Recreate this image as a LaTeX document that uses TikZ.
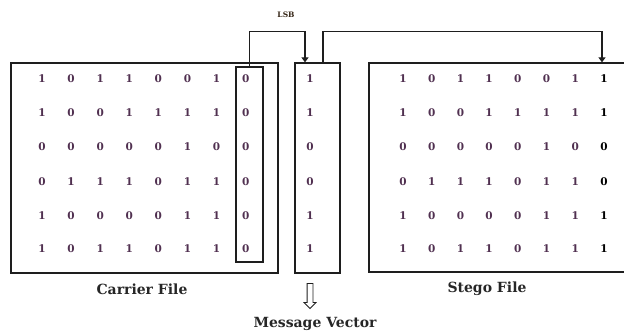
\documentclass[tikz,border=0pt]{standalone}
\usepackage{fontspec}
\setmainfont{DejaVu Serif}
\usetikzlibrary{arrows.meta,shapes.arrows}
\definecolor{digit}{RGB}{80,48,80}
\definecolor{edge}{RGB}{30,30,30}
\tikzset{
  box/.style={draw=edge, line width=1.3pt, rectangle, inner sep=0pt},
  bit/.style={text=digit, font=\bfseries\fontsize{10.5}{11}\selectfont, inner sep=0pt},
  newbit/.style={text=black, font=\bfseries\fontsize{10.5}{11}\selectfont, inner sep=0pt},
  lab/.style={text=black!85, font=\bfseries\fontsize{14}{15}\selectfont, inner sep=0pt},
  conn/.style={draw=edge, line width=1.2pt, -{Triangle[width=7pt,length=5pt]}},
}
\begin{document}
\begin{tikzpicture}[x=1pt,y=-1pt]
\useasboundingbox (0,0) rectangle (624,334);
\clip (0,0) rectangle (624,334);
% boxes
\node[box, minimum width=267pt, minimum height=210pt] (carrier) at (144.5,168) {};
\node[box, minimum width=27pt, minimum height=195pt] (lsbbox) at (249.5,164.5) {};
\node[box, minimum width=45pt, minimum height=210pt] (msg) at (317.5,168) {};
\node[box, minimum width=281pt, minimum height=209pt] (stego) at (509.5,167.5) {};
% data
\foreach \r/\y/\a/\b/\c/\d/\e/\f/\g/\h/\m in {
 1/79/1/0/1/1/0/0/1/0/1,
 2/113/1/0/0/1/1/1/1/0/1,
 3/147/0/0/0/0/0/1/0/0/0,
 4/182/0/1/1/1/0/1/1/0/0,
 5/216/1/0/0/0/0/1/1/0/1,
 6/249/1/0/1/1/0/1/1/0/1} {
  \foreach \v [count=\i] in {\a,\b,\c,\d,\e,\f,\g,\h} {
    \node[bit] (c-\r-\i) at ({42+(\i-1)*29.1},\y) {\v};
  }
  \foreach \v [count=\i] in {\a,\b,\c,\d,\e,\f,\g} {
    \node[bit] (s-\r-\i) at ({403+(\i-1)*28.7},\y) {\v};
  }
  \node[newbit] (s-\r-8) at (604,\y) {\m};
  \node[bit] (m-\r) at (310,\y) {\m};
}
% connectors
\node[text=black!75!brown, font=\bfseries\fontsize{7.5}{8}\selectfont, inner sep=0pt] (lsb) at (286,15) {LSB};
\draw[conn] (lsbbox.north) -- ++(0,-35) -| ([xshift=-12.5pt]msg.north);
\draw[conn] ([xshift=5.5pt]msg.north) -- ++(0,-31) -| ([xshift=92.5pt]stego.north);
% labels
\node[lab] (clab) at (142,289) {Carrier File};
\node[lab] (slab) at (487,289) {Stego File};
\node[lab] (mlab) at (315,324) {Message Vector};
\node[single arrow, draw=edge, line width=0.8pt, shape border rotate=270, inner sep=2.5pt,
      minimum height=25pt, single arrow head extend=3pt, single arrow head indent=0pt] (down) at (310,294.5) {};
\end{tikzpicture}
\end{document}
